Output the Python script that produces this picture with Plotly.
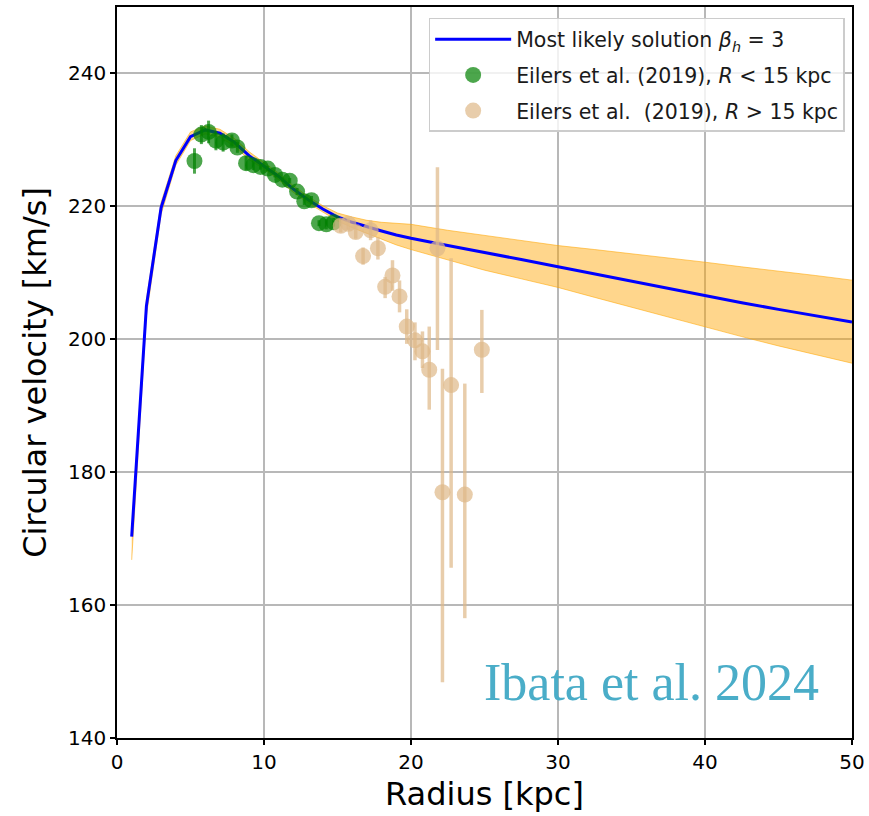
import plotly.graph_objects as go

# ---- Model curve (most likely solution) and its band ----
model_R = [1, 2, 3, 4, 5, 6, 7, 8, 9, 10, 11, 12, 13, 14, 15, 16, 17, 18, 19, 20,
           22.5, 25, 27.5, 30, 32.5, 35, 37.5, 40, 42.5, 45, 47.5, 50]
model_v = [170.3, 205.0, 219.8, 226.9, 230.5, 231.5, 231.0, 229.6, 227.6, 226.1,
           224.5, 222.6, 221.0, 219.6, 218.4, 217.6, 216.9, 216.3, 215.7, 215.2,
           214.1, 213.1, 212.0, 210.9, 209.8, 208.7, 207.6, 206.5, 205.5, 204.5,
           203.5, 202.6]
band_hi = [171.0, 206.0, 220.6, 227.6, 231.2, 232.1, 231.6, 230.2, 228.2, 226.6,
           225.0, 223.1, 221.5, 220.1, 219.0, 218.4, 217.9, 217.6, 217.4, 217.3,
           216.4, 215.6, 214.8, 214.1, 213.5, 212.9, 212.2, 211.6, 210.9, 210.3,
           209.6, 208.9]
band_lo = [166.8, 203.5, 218.8, 226.2, 229.9, 230.9, 230.4, 229.0, 227.0, 225.6,
           224.0, 222.1, 220.5, 219.1, 217.8, 216.8, 215.9, 215.0, 214.2, 213.5,
           211.9, 210.4, 209.1, 207.8, 206.3, 204.8, 203.3, 201.8, 200.4, 199.0,
           197.7, 196.4]

# ---- Eilers et al. (2019), R < 15 kpc ----
in_R = [5.27, 5.74, 6.23, 6.73, 7.22, 7.82, 8.19, 8.78, 9.27, 9.76, 10.26, 10.75,
        11.25, 11.75, 12.25, 12.74, 13.23, 13.74, 14.24, 14.74]
in_v = [226.83, 230.80, 231.20, 229.88, 229.61, 229.91, 228.86, 226.50, 226.20,
        225.94, 225.68, 224.73, 224.02, 223.86, 222.23, 220.77, 220.92, 217.47,
        217.31, 217.60]
in_err = [1.91, 1.43, 1.70, 1.44, 1.37, 0.92, 0.80, 1.07, 0.72, 0.42, 0.44, 0.38,
          0.33, 0.40, 0.54, 0.57, 0.64, 0.45, 0.77, 0.65]

# ---- Eilers et al. (2019), R > 15 kpc ----
out_R = [15.22, 15.74, 16.24, 16.74, 17.25, 17.75, 18.24, 18.74, 19.22, 19.71,
         20.27, 20.78, 21.24, 21.80, 22.14, 22.73, 23.66, 24.82]
out_v = [217.07, 217.38, 216.14, 212.52, 216.41, 213.70, 207.89, 209.60, 206.45,
         201.91, 199.84, 198.18, 195.41, 213.69, 176.98, 193.11, 176.63, 198.42]
out_err_up = [1.0, 0.9, 1.0, 1.3, 1.5, 1.7, 1.5, 2.3, 2.4, 2.6, 2.7, 3.0, 6.5,
              12.2, 18.6, 19.1, 16.7, 6.0]
out_err_dn = [1.0, 0.9, 1.0, 1.3, 1.5, 1.7, 1.7, 2.3, 2.4, 2.6, 3.0, 2.5, 6.0,
              15.3, 28.6, 27.5, 18.6, 6.5]

x_ticks = [0, 10, 20, 30, 40, 50]
y_ticks = [140, 160, 180, 200, 220, 240]

FONT = "DejaVu Sans"

fig = go.Figure()

fig.add_trace(go.Scatter(x=model_R, y=band_hi, mode="lines",
                         line=dict(color="rgba(255,165,0,0.55)", width=1),
                         showlegend=False, hoverinfo="skip"))
fig.add_trace(go.Scatter(x=model_R, y=band_lo, mode="lines",
                         line=dict(color="rgba(255,165,0,0.55)", width=1),
                         fill="tonexty", fillcolor="rgba(255,165,0,0.45)",
                         showlegend=False, hoverinfo="skip"))
fig.add_trace(go.Scatter(x=model_R, y=model_v, mode="lines",
                         line=dict(color="#0000ff", width=3),
                         name="Most likely solution <i>β</i><sub><i>h</i></sub> = 3",
                         legendgroup="a"))
fig.add_trace(go.Scatter(x=in_R, y=in_v, mode="markers",
                         marker=dict(color="rgba(0,128,0,0.7)", size=16, line=dict(width=0)),
                         error_y=dict(type="data", array=in_err, color="rgba(0,128,0,0.7)",
                                      thickness=3, width=0),
                         name="Eilers et al. (2019), <i>R</i> &lt; 15 kpc",
                         legendgroup="b"))
fig.add_trace(go.Scatter(x=out_R, y=out_v, mode="markers",
                         marker=dict(color="rgba(222,184,135,0.7)", size=16, line=dict(width=0)),
                         error_y=dict(type="data", symmetric=False, array=out_err_up,
                                      arrayminus=out_err_dn,
                                      color="rgba(222,184,135,0.7)",
                                      thickness=3.5, width=0),
                         name="Eilers et al.\u00a0 (2019), <i>R</i> &gt; 15 kpc",
                         legendgroup="c"))

fig.add_annotation(x=36.33, y=148.4, xref="x", yref="y", text="Ibata et al. 2024",
                   showarrow=False, xanchor="center", yanchor="middle",
                   font=dict(family="Liberation Serif, Times New Roman, serif",
                             size=52, color="#4aadc8"))

axis_common = dict(showline=True, linecolor="black", linewidth=1.5, mirror=True,
                   ticks="outside", ticklen=5, tickwidth=1.5, tickcolor="black",
                   showgrid=True, gridcolor="#b8b8b8", gridwidth=1.6, zeroline=False,
                   automargin=False)

fig.update_xaxes(range=[0, 50], tickvals=x_ticks, ticktext=[str(t) for t in x_ticks],
                 title=dict(text="Radius [kpc]", standoff=10,
                            font=dict(family=FONT, size=32, color="black")),
                 tickfont=dict(family=FONT, size=20, color="black"),
                 **axis_common)
fig.update_yaxes(range=[140, 250], tickvals=y_ticks, ticktext=[str(t) for t in y_ticks],
                 title=dict(text="Circular velocity [km/s]", standoff=12,
                            font=dict(family=FONT, size=32, color="black")),
                 tickfont=dict(family=FONT, size=20, color="black"),
                 **axis_common)

fig.update_layout(
    width=869, height=816,
    margin=dict(l=117, r=17, t=7, b=78),
    plot_bgcolor="white", paper_bgcolor="white",
    legend=dict(x=0.99, y=0.985, xanchor="right", yanchor="top",
                bgcolor="rgba(255,255,255,0.8)", bordercolor="#cccccc", borderwidth=1.5,
                font=dict(family=FONT, size=20.5, color="#1a1a1a"),
                tracegroupgap=6, traceorder="grouped", itemwidth=76),
    showlegend=True,
)

fig.write_html("out.html")
